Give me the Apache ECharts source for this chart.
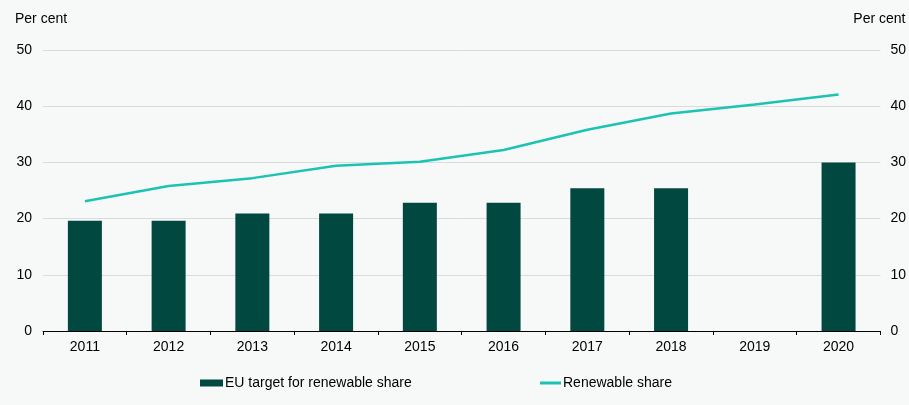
<!DOCTYPE html>
<html><head><meta charset="utf-8">
<script src="https://cdn.jsdelivr.net/npm/echarts@6/dist/echarts.min.js"></script>
<style>html,body{margin:0;padding:0;background:#f7f9f9}#c{width:909px;height:405px}</style>
</head><body><div id="c"></div>
<script>
const years = ['2011','2012','2013','2014','2015','2016','2017','2018','2019','2020'];
const euTarget = [19.6, 19.6, 20.9, 20.9, 22.8, 22.8, 25.4, 25.4, null, 30];
const renewableShare = [23.1, 25.8, 27.2, 29.4, 30.1, 32.2, 35.8, 38.7, 40.3, 42.1];
const barName = 'EU target for renewable share';
const lineName = 'Renewable share';

const chart = echarts.init(document.getElementById('c'), null, {renderer:'canvas'});
const font = 'Liberation Sans, Arial, sans-serif';
const yCommon = {
  type:'value', min:0, max:50, interval:10,
  name:'Per cent', nameGap:24,
  axisLine:{show:false}, axisTick:{show:false}
};
chart.setOption({
  backgroundColor:'#f7f9f9',
  animation:false,
  grid:{left:43, right:27, top:50, bottom:74},
  legend:[
    {data:[{name:barName, icon:'rect'}], left:195, top:371, itemWidth:23, itemHeight:7, itemGap:2,
     textStyle:{color:'#000', fontSize:14, fontFamily:font, padding:[0,0,0,-3]}},
    {data:[{name:lineName, icon:'rect', itemStyle:{color:'#1cc3b2'}}], left:535, top:371, itemWidth:21, itemHeight:3,
     textStyle:{color:'#000', fontSize:14, fontFamily:font, padding:[0,0,0,-3]}}
  ],
  xAxis:{type:'category', data:years,
    axisLine:{lineStyle:{color:'#000', width:1}},
    axisTick:{show:true, length:4, lineStyle:{color:'#000'}},
    axisLabel:{color:'#000', fontSize:14, fontFamily:font, margin:9}},
  yAxis:[
    Object.assign({}, yCommon, {position:'left',
      nameTextStyle:{color:'#000', fontSize:14, fontFamily:font, align:'left', padding:[0,0,0,-28]},
      axisLabel:{color:'#000', fontSize:14, fontFamily:font, margin:11},
      splitLine:{lineStyle:{color:'#d9dcdc', width:1}}}),
    Object.assign({}, yCommon, {position:'right',
      nameTextStyle:{color:'#000', fontSize:14, fontFamily:font, align:'right', padding:[0,-25,0,0]},
      axisLabel:{color:'#000', fontSize:14, fontFamily:font, margin:10},
      splitLine:{show:false}})
  ],
  series:[
    {name:barName, type:'bar', data:euTarget, barWidth:34, yAxisIndex:0,
     itemStyle:{color:'#004840'}},
    {name:lineName, type:'line', data:renewableShare, yAxisIndex:0,
     symbol:'none', lineStyle:{color:'#1cc3b2', width:2.5}, itemStyle:{color:'#1cc3b2'}}
  ]
});
</script></body></html>
